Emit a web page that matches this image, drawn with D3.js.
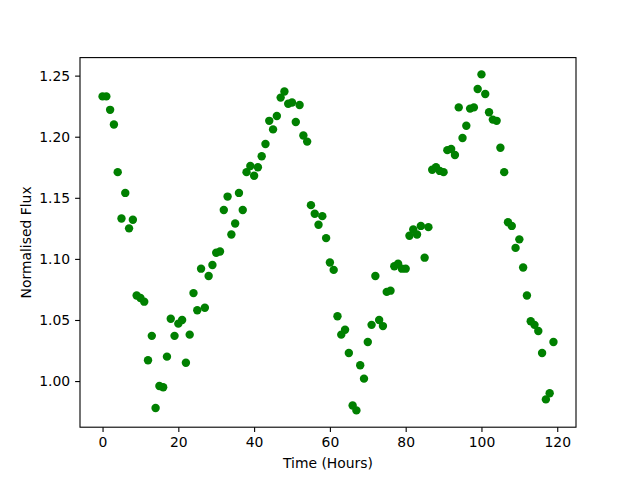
<!DOCTYPE html>
<html>
<head>
<meta charset="utf-8">
<script src="https://cdn.jsdelivr.net/npm/d3@7"></script>
<style>
  body { margin: 0; background: #fff; }
  text { font-family: "DejaVu Sans", sans-serif; }
</style>
</head>
<body>
<div id="viz"></div>
<script>
const hours = d3.range(0, 120);
const flux = [
  1.233, 1.233, 1.222, 1.210, 1.171, 1.133, 1.154, 1.125, 1.132, 1.070,
  1.068, 1.065, 1.017, 1.037, 0.978, 0.996, 0.995, 1.020, 1.051, 1.037,
  1.047, 1.050, 1.015, 1.038, 1.072, 1.058, 1.092, 1.060, 1.086, 1.095,
  1.105, 1.106, 1.140, 1.151, 1.120, 1.129, 1.154, 1.140, 1.171, 1.176,
  1.168, 1.175, 1.184, 1.194, 1.213, 1.206, 1.217, 1.232, 1.237, 1.227,
  1.228, 1.212, 1.226, 1.201, 1.196, 1.144, 1.137, 1.128, 1.135, 1.117,
  1.097, 1.091, 1.053, 1.038, 1.042, 1.023, 0.980, 0.976, 1.013, 1.002,
  1.032, 1.046, 1.086, 1.050, 1.045, 1.073, 1.074, 1.094, 1.096, 1.092,
  1.092, 1.119, 1.124, 1.120, 1.127, 1.101, 1.126, 1.173, 1.175, 1.172,
  1.171, 1.189, 1.190, 1.185, 1.224, 1.199, 1.209, 1.223, 1.224, 1.239,
  1.251, 1.235, 1.220, 1.214, 1.213, 1.191, 1.171, 1.130, 1.127, 1.109,
  1.116, 1.093, 1.070, 1.049, 1.046, 1.041, 1.023, 0.985, 0.990, 1.032
];
const xTicks = [0, 20, 40, 60, 80, 100, 120];
const yTicks = [1.00, 1.05, 1.10, 1.15, 1.20, 1.25];

const width = 640, height = 480;
const plotLeft = 80, plotRight = 576, plotTop = 57.6, plotBottom = 427.2;

const svg = d3.select("#viz")
    .append("svg")
    .attr("width", width)
    .attr("height", height);

// matplotlib style 5% margins around the data
const xExt = d3.extent(hours), yExt = d3.extent(flux);
const xPad = (xExt[1] - xExt[0]) * 0.05, yPad = (yExt[1] - yExt[0]) * 0.05;

const xScale = d3.scaleLinear()
    .domain([xExt[0] - xPad, xExt[1] + xPad])
    .range([plotLeft, plotRight]);

const yScale = d3.scaleLinear()
    .domain([yExt[0] - yPad, yExt[1] + yPad])
    .range([plotBottom, plotTop]);

// points
svg.selectAll(".pt")
    .data(hours)
    .enter()
    .append("circle")
    .attr("class", "pt")
    .attr("cx", (d) => xScale(d))
    .attr("cy", (d, i) => yScale(flux[i]))
    .attr("r", 4.2)
    .attr("fill", "#008000");

// axes
const xAxis = svg.append("g")
    .attr("transform", `translate(0,${plotBottom})`)
    .call(d3.axisBottom(xScale).tickValues(xTicks).tickSizeOuter(0).tickSize(4.9).tickPadding(4.9));

const yAxis = svg.append("g")
    .attr("transform", `translate(${plotLeft},0)`)
    .call(d3.axisLeft(yScale).tickValues(yTicks).tickFormat(d3.format(".2f")).tickSizeOuter(0).tickSize(4.9).tickPadding(4.9));

[xAxis, yAxis].forEach((g) => {
    g.select(".domain").remove();
    g.selectAll(".tick line").attr("stroke", "#000").attr("stroke-width", 1.1);
    g.selectAll(".tick text")
        .attr("fill", "#000")
        .style("font-size", "13.9px")
        .style("font-family", "DejaVu Sans");
});

// frame
svg.append("rect")
    .attr("x", plotLeft)
    .attr("y", plotTop)
    .attr("width", plotRight - plotLeft)
    .attr("height", plotBottom - plotTop)
    .attr("fill", "none")
    .attr("stroke", "#000")
    .attr("stroke-width", 1.1);

// labels
svg.append("text")
    .attr("x", (plotLeft + plotRight) / 2)
    .attr("y", 468)
    .attr("text-anchor", "middle")
    .style("font-size", "13.9px")
    .text("Time (Hours)");

svg.append("text")
    .attr("transform", `translate(31,${(plotTop + plotBottom) / 2}) rotate(-90)`)
    .attr("text-anchor", "middle")
    .style("font-size", "13.9px")
    .text("Normalised Flux");
</script>
</body>
</html>
